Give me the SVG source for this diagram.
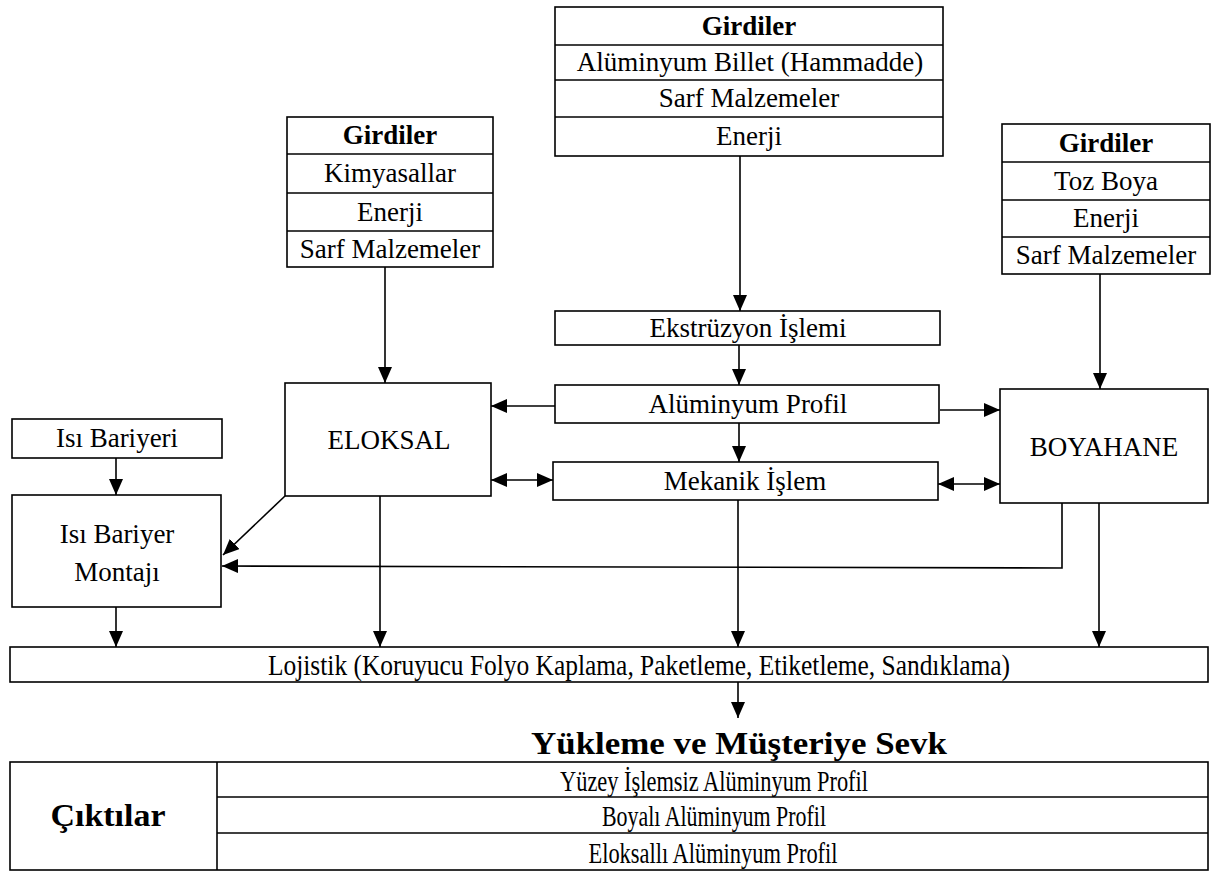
<svg xmlns="http://www.w3.org/2000/svg" width="1222" height="886" viewBox="0 0 1222 886">
<style>
.box{fill:#fff;stroke:#000;stroke-width:1.6}
.ln{fill:none;stroke:#000;stroke-width:1.6}
text{font-family:"Liberation Serif","Times New Roman",serif;font-size:27px;fill:#000;text-anchor:middle}
.b{font-weight:bold}
.t{font-size:29px}
.tb{font-size:31px;font-weight:bold}
</style>
<defs>
<marker id="ah" markerUnits="userSpaceOnUse" markerWidth="16" markerHeight="14" refX="16" refY="7" orient="auto-start-reverse">
<path d="M0,0 L16,7 L0,14 z" fill="#000"/>
</marker>
</defs>
<rect width="1222" height="886" fill="#fff"/>

<g id="connectors">
<line class="ln" x1="740" y1="156" x2="740" y2="311" marker-end="url(#ah)"/>
<line class="ln" x1="385" y1="267" x2="385" y2="383" marker-end="url(#ah)"/>
<line class="ln" x1="1100" y1="274" x2="1100" y2="389" marker-end="url(#ah)"/>
<line class="ln" x1="739" y1="345" x2="739" y2="385" marker-end="url(#ah)"/>
<line class="ln" x1="739" y1="423" x2="739" y2="462" marker-end="url(#ah)"/>
<line class="ln" x1="555" y1="406" x2="491" y2="406" marker-end="url(#ah)"/>
<line class="ln" x1="940" y1="410" x2="1000" y2="410" marker-end="url(#ah)"/>
<line class="ln" x1="491" y1="480" x2="553" y2="480" marker-start="url(#ah)" marker-end="url(#ah)"/>
<line class="ln" x1="938" y1="484" x2="1000" y2="484" marker-start="url(#ah)" marker-end="url(#ah)"/>
<line class="ln" x1="285" y1="496" x2="223" y2="555" marker-end="url(#ah)"/>
<polyline class="ln" points="1062,503 1062,568 222,566" marker-end="url(#ah)"/>
<line class="ln" x1="116" y1="458" x2="116" y2="495" marker-end="url(#ah)"/>
<line class="ln" x1="116" y1="607" x2="116" y2="647" marker-end="url(#ah)"/>
<line class="ln" x1="380" y1="496" x2="380" y2="647" marker-end="url(#ah)"/>
<line class="ln" x1="738" y1="500" x2="738" y2="647" marker-end="url(#ah)"/>
<line class="ln" x1="1099" y1="503" x2="1099" y2="647" marker-end="url(#ah)"/>
<line class="ln" x1="738" y1="682" x2="738" y2="718" marker-end="url(#ah)"/>
</g>

<g id="girdiler-center">
<rect class="box" x="555" y="7" width="388" height="149"/>
<line class="ln" x1="555" y1="45" x2="943" y2="45"/>
<line class="ln" x1="555" y1="80" x2="943" y2="80"/>
<line class="ln" x1="555" y1="117" x2="943" y2="117"/>
<text class="b" x="749" y="35">Girdiler</text>
<text x="750" y="71">Alüminyum Billet (Hammadde)</text>
<text x="749" y="107">Sarf Malzemeler</text>
<text x="749" y="145">Enerji</text>
</g>

<g id="girdiler-left">
<rect class="box" x="287" y="117" width="206" height="150"/>
<line class="ln" x1="287" y1="154" x2="493" y2="154"/>
<line class="ln" x1="287" y1="193" x2="493" y2="193"/>
<line class="ln" x1="287" y1="231" x2="493" y2="231"/>
<text class="b" x="390" y="144">Girdiler</text>
<text x="390" y="182">Kimyasallar</text>
<text x="390" y="221">Enerji</text>
<text x="390" y="258">Sarf Malzemeler</text>
</g>

<g id="girdiler-right">
<rect class="box" x="1002" y="124" width="208" height="150"/>
<line class="ln" x1="1002" y1="162" x2="1210" y2="162"/>
<line class="ln" x1="1002" y1="200" x2="1210" y2="200"/>
<line class="ln" x1="1002" y1="237" x2="1210" y2="237"/>
<text class="b" x="1106" y="152">Girdiler</text>
<text x="1106" y="190">Toz Boya</text>
<text x="1106" y="227">Enerji</text>
<text x="1106" y="264">Sarf Malzemeler</text>
</g>

<g id="ekstruzyon">
<rect class="box" x="555" y="311" width="385" height="34"/>
<text x="748" y="337">Ekstrüzyon İşlemi</text>
</g>

<g id="aluminyum-profil">
<rect class="box" x="555" y="385" width="384" height="38"/>
<text x="748" y="413">Alüminyum Profil</text>
</g>

<g id="mekanik">
<rect class="box" x="553" y="462" width="385" height="38"/>
<text x="745" y="490">Mekanik İşlem</text>
</g>

<g id="eloksal">
<rect class="box" x="285" y="383" width="206" height="113"/>
<text x="389" y="449">ELOKSAL</text>
</g>

<g id="boyahane">
<rect class="box" x="1000" y="389" width="208" height="114"/>
<text x="1104" y="456">BOYAHANE</text>
</g>

<g id="isi-bariyeri">
<rect class="box" x="12" y="419" width="210" height="39"/>
<text x="117" y="447">Isı Bariyeri</text>
</g>

<g id="isi-bariyer-montaji">
<rect class="box" x="12" y="495" width="209" height="112"/>
<text x="117" y="543">Isı Bariyer</text>
<text x="117" y="581">Montajı</text>
</g>

<g id="lojistik">
<rect class="box" x="10" y="647" width="1198" height="35"/>
<text class="t" x="639" y="675" textLength="742" lengthAdjust="spacingAndGlyphs">Lojistik (Koruyucu Folyo Kaplama, Paketleme, Etiketleme, Sandıklama)</text>
</g>

<g id="yukleme">
<text class="tb" x="739" y="754" textLength="416" lengthAdjust="spacingAndGlyphs">Yükleme ve Müşteriye Sevk</text>
</g>

<g id="ciktilar">
<rect class="box" x="10" y="762" width="1198" height="108"/>
<line class="ln" x1="217" y1="762" x2="217" y2="870"/>
<line class="ln" x1="217" y1="797" x2="1208" y2="797"/>
<line class="ln" x1="217" y1="833" x2="1208" y2="833"/>
<text class="tb" x="108" y="826" textLength="115" lengthAdjust="spacingAndGlyphs">Çıktılar</text>
<text class="t" x="714" y="791" textLength="308" lengthAdjust="spacingAndGlyphs">Yüzey İşlemsiz Alüminyum Profil</text>
<text class="t" x="714" y="826" textLength="224" lengthAdjust="spacingAndGlyphs">Boyalı Alüminyum Profil</text>
<text class="t" x="713" y="863" textLength="249" lengthAdjust="spacingAndGlyphs">Eloksallı Alüminyum Profil</text>
</g>
</svg>
